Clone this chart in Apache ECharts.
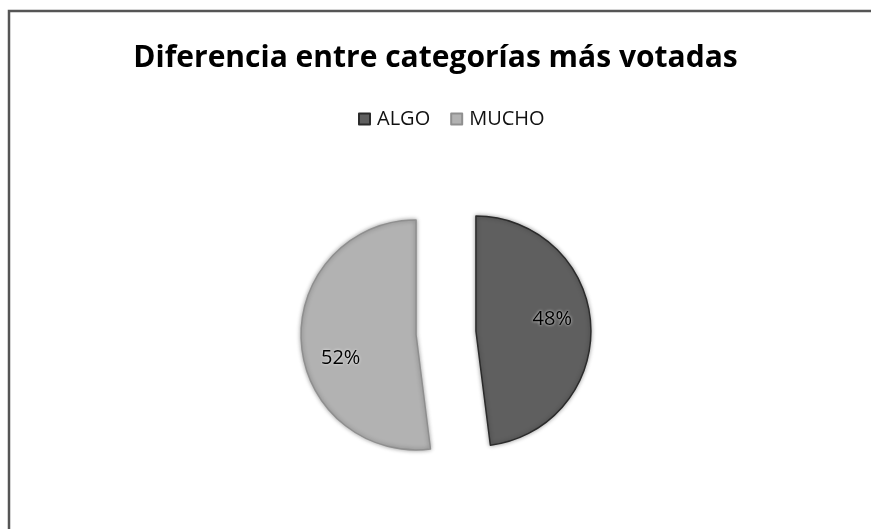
<!DOCTYPE html>
<html>
<head>
<meta charset="utf-8">
<script src="https://cdn.jsdelivr.net/npm/echarts@6/dist/echarts.min.js"></script>
<style>
  html, body { margin: 0; padding: 0; background: #fff; }
  #main { width: 871px; height: 529px; }
</style>
</head>
<body>
<div id="main"></div>
<script>
var categories = ['ALGO', 'MUCHO'];
var values = [48, 52];
var colors = ['#5f5f5f', '#b2b2b2'];
var edgeColors = ['#2b2b2b', '#8f8f8f'];
// where Excel's best-fit put the percent labels, relative to the inner spot
var labelShift = [[16, -8], [-15, 20]];

var chart = echarts.init(document.getElementById('main'));

var pieData = categories.map(function(name, i) {
    return {
        name: name,
        value: values[i],
        selected: true,
        itemStyle: {
            color: colors[i],
            borderColor: edgeColors[i],
            borderWidth: 1.5
        }
    };
});

chart.setOption({
    backgroundColor: '#ffffff',
    animation: false,
    title: {
        text: 'Diferencia entre categorías más votadas',
        left: 'center',
        top: 38,
        textStyle: {
            fontFamily: 'Open Sans',
            fontWeight: 'bold',
            fontSize: 30,
            color: '#000'
        }
    },
    legend: {
        data: categories,
        top: 104,
        left: 353,
        icon: 'rect',
        itemWidth: 11,
        itemHeight: 11,
        itemGap: 20,
        textStyle: {
            fontFamily: 'Open Sans',
            fontSize: 20,
            color: '#111',
            padding: [0, 0, 0, 2]
        }
    },
    graphic: [{
        type: 'polyline',
        shape: { points: [[9, 529], [9, 11], [871, 11]] },
        style: { stroke: '#555', lineWidth: 2.5, fill: null }
    }],
    series: [{
        type: 'pie',
        center: [446, 333],
        radius: 115,
        startAngle: 90,
        clockwise: true,
        selectedMode: 'multiple',
        selectedOffset: 30,
        data: pieData,
        itemStyle: {
            shadowBlur: 4,
            shadowColor: 'rgba(0,0,0,0.35)'
        },
        label: {
            show: true,
            position: 'inner',
            formatter: function(p) { return Math.round(p.percent) + '%'; },
            fontFamily: 'Open Sans',
            fontSize: 20,
            color: '#000',
            textShadowColor: 'rgba(255,255,255,0.9)',
            textShadowBlur: 3
        },
        labelLayout: function(params) {
            var s = labelShift[params.dataIndex];
            return { dx: s[0], dy: s[1] };
        },
        labelLine: { show: false },
        emphasis: { disabled: true }
    }]
});
</script>
</body>
</html>
